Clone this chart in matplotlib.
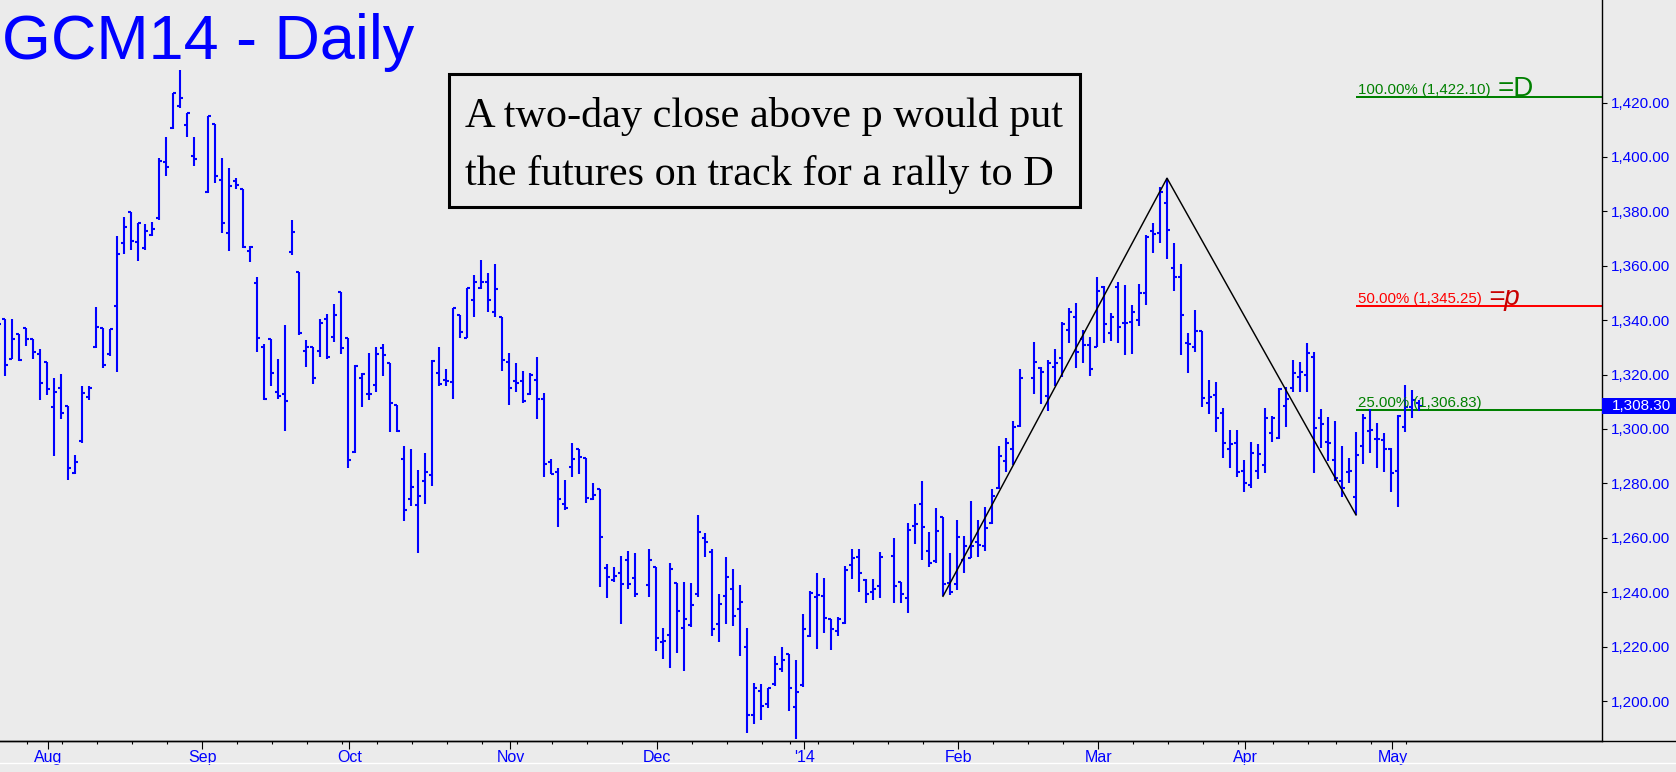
import numpy as np
import pandas as pd
import matplotlib
matplotlib.use("Agg")
import matplotlib.pyplot as plt
from matplotlib.patches import Rectangle
from matplotlib.lines import Line2D
import matplotlib.transforms as mtransforms

plt.rcParams['font.family'] = ['Liberation Sans', 'DejaVu Sans']

# ---------------- data ----------------
title = "GCM14 - Daily"
note_lines = ["A two-day close above p would put",
              "the futures on track for a rally to D"]
start_date, end_date = "2013-07-23", "2014-05-07"
closed_days = ["2013-12-25", "2014-01-01", "2014-04-18"]

N = None
opens = [
    1335.0, 1340.3, 1325.9, 1334.8, 1337.3, 1332.9, 1327.4,
    1324.7, 1308.2, 1315.2, 1308.5, 1283.9, 1295.7, 1311.8, 1330.2, 1337.0, 1327.5, 1345.2, 1368.2, 1379.9, 1368.8, 1366.6, 1371.3, 1377.4, 1398.2, 1410.5, 1418.7, 1411.7, 1400.3,
    N, 1387.2, 1412.3, 1391.5, 1372.1, 1391.3, 1388.1, 1365.5, 1353.7, 1330.2, 1332.9, 1313.7, 1312.8, 1365.1, 1357.8, 1328.7, 1330.2, 1328.7, 1340.4, 1333.9, 1350.4,
    1333.3, 1291.6, 1318.8, 1312.8, 1316.1, 1329.6, 1324.3, 1308.8, 1289.0, 1274.4, 1272.0, 1280.9, 1283.0, 1320.6, 1317.9, 1317.3, 1341.9, 1333.6, 1347.4, 1352.0, 1354.1, 1343.1, 1341.0,
    1324.7, 1317.7, 1317.7, 1312.8, 1317.9, 1311.0, 1287.9, 1284.3, 1272.4, 1286.1, 1292.5, 1289.4, 1274.1, 1278.1, 1249.0, 1244.4, 1246.9, 1252.0, 1245.3, N, 1242.6,
    1249.3, 1221.8, 1224.2, 1243.2, 1226.9, 1227.9, 1239.5, 1260.1, 1254.8, 1228.2, 1238.7, 1241.1, 1233.8, 1219.9, 1194.8, 1203.7, 1198.8, 1206.4, 1211.7, 1217.1, 1197.9,
    1205.8, 1223.8, 1238.3, 1238.7, 1230.1, 1225.8, 1228.7, 1249.9, 1252.8, 1244.4, 1240.1, 1242.3, N, 1253.4, 1243.6, 1237.9, 1264.3, 1272.6, 1255.2, 1251.5, 1267.5, 1243.3,
    1243.0, 1251.8, 1252.5, 1258.3, 1257.1, 1265.3, 1278.2, 1288.4, 1292.5, 1301.1, N, 1318.9, 1322.3, 1312.1, 1322.9, 1326.2, 1336.4, 1341.3, 1333.0, 1330.9,
    1330.3, 1352.1, 1335.2, 1352.3, 1338.8, 1339.5, 1340.1, 1349.9, 1372.8, 1371.9, 1383.2, 1359.3, 1356.0, 1331.5, 1330.3, 1336.0, 1309.4, 1312.5, 1306.0, 1292.5, 1295.0,
    1284.7, 1279.4, 1284.7, 1286.8, 1298.4, 1296.6, 1308.5, 1315.2, 1319.2, 1320.0, 1326.6, 1304.0, 1295.3, 1288.6, 1281.0, 1284.1, 1275.0, 1293.9, 1299.3, 1296.2, 1296.0,
    1292.5, 1284.7, 1300.9, 1308.2, 1309.5,
]
highs = [
    1345.0, 1340.3, 1340.3, 1334.8, 1337.3, 1332.9, 1329.3,
    1324.7, 1318.6, 1320.2, 1308.5, 1290.4, 1315.8, 1315.8, 1344.7, 1337.0, 1336.6, 1370.9, 1377.8, 1379.9, 1375.8, 1375.3, 1376.2, 1399.5, 1407.2, 1423.4, 1431.9, 1416.0, 1407.2,
    N, 1415.2, 1412.3, 1399.8, 1395.8, 1392.1, 1388.1, 1367.2, 1355.9, 1331.1, 1332.9, 1325.9, 1338.2, 1377.0, 1357.8, 1332.7, 1330.2, 1340.3, 1342.1, 1345.9, 1350.4,
    1333.3, 1323.5, 1320.4, 1327.8, 1330.2, 1331.4, 1324.3, 1309.0, 1293.7, 1292.6, 1284.9, 1291.2, 1325.3, 1330.2, 1321.9, 1344.3, 1341.9, 1352.0, 1356.6, 1362.3, 1357.2, 1360.6, 1341.0,
    1327.8, 1324.4, 1321.3, 1320.6, 1326.3, 1313.4, 1288.8, 1285.5, 1281.2, 1295.0, 1292.8, 1289.4, 1280.3, 1278.1, 1250.2, 1249.1, 1253.2, 1255.1, 1254.5, N, 1255.7,
    1249.3, 1227.0, 1250.9, 1243.2, 1243.6, 1243.4, 1268.3, 1261.6, 1255.7, 1239.2, 1252.8, 1248.7, 1242.8, 1227.0, 1206.8, 1206.4, 1204.8, 1216.5, 1219.9, 1217.1, 1215.0,
    1231.9, 1240.5, 1247.2, 1245.4, 1230.3, 1230.9, 1249.7, 1255.8, 1255.8, 1244.7, 1244.7, 1254.8, N, 1260.1, 1243.8, 1265.6, 1272.6, 1280.8, 1262.0, 1270.8, 1267.5, 1254.3,
    1266.5, 1260.7, 1273.5, 1266.5, 1271.4, 1277.8, 1293.7, 1296.6, 1302.9, 1322.1, N, 1332.1, 1322.7, 1325.4, 1329.3, 1339.5, 1344.4, 1346.2, 1336.4, 1333.7,
    1355.8, 1352.6, 1342.5, 1354.2, 1352.9, 1345.6, 1353.2, 1371.3, 1375.9, 1388.9, 1392.2, 1368.3, 1360.7, 1335.4, 1343.7, 1336.0, 1318.0, 1317.4, 1307.6, 1299.6, 1299.6,
    1288.6, 1295.1, 1294.5, 1307.6, 1304.8, 1315.0, 1315.6, 1325.4, 1324.5, 1331.7, 1328.4, 1307.2, 1304.5, 1302.9, 1293.8, 1289.2, 1299.0, 1305.5, 1307.2, 1302.1, 1298.7,
    1293.1, 1305.2, 1316.0, 1314.3, 1310.5,
]
lows = [
    1330.0, 1319.4, 1325.6, 1325.0, 1330.5, 1325.6, 1310.6,
    1312.5, 1290.0, 1303.5, 1281.2, 1283.3, 1294.9, 1310.6, 1329.6, 1322.3, 1326.8, 1321.0, 1364.3, 1365.8, 1361.8, 1365.8, 1370.9, 1377.0, 1393.0, 1410.3, 1417.9, 1407.2, 1396.7,
    N, 1386.8, 1390.5, 1371.9, 1365.5, 1388.4, 1366.4, 1361.5, 1328.4, 1310.8, 1315.9, 1311.2, 1299.3, 1364.0, 1334.7, 1322.9, 1316.7, 1326.3, 1325.9, 1332.0, 1327.7,
    1285.5, 1291.2, 1308.1, 1310.8, 1313.7, 1319.5, 1299.0, 1299.0, 1266.2, 1271.8, 1254.5, 1272.4, 1279.0, 1315.7, 1315.7, 1311.2, 1333.3, 1333.3, 1341.2, 1351.3, 1343.1, 1341.2, 1321.4,
    1309.0, 1313.7, 1309.7, 1312.4, 1303.5, 1282.4, 1283.4, 1264.0, 1270.4, 1282.4, 1283.6, 1272.9, 1273.8, 1242.0, 1237.7, 1243.8, 1228.2, 1241.0, 1238.1, N, 1238.1,
    1218.4, 1215.6, 1212.3, 1217.5, 1211.1, 1227.3, 1238.3, 1253.0, 1224.0, 1221.8, 1228.2, 1227.6, 1216.6, 1188.1, 1191.7, 1193.2, 1197.6, 1205.6, 1210.5, 1196.4, 1186.2,
    1205.2, 1223.4, 1219.1, 1225.1, 1218.9, 1224.0, 1228.3, 1244.7, 1240.1, 1236.2, 1237.1, 1237.7, N, 1236.2, 1236.2, 1232.2, 1257.7, 1252.0, 1249.1, 1250.8, 1238.5, 1239.0,
    1240.8, 1246.9, 1252.5, 1253.1, 1255.3, 1265.1, 1277.8, 1284.3, 1286.8, 1300.9, N, 1312.7, 1309.1, 1306.7, 1315.8, 1319.0, 1331.5, 1322.3, 1324.1, 1319.5,
    1330.0, 1331.5, 1332.5, 1331.5, 1327.2, 1327.5, 1338.0, 1345.6, 1364.6, 1368.3, 1362.5, 1350.9, 1327.2, 1320.5, 1328.4, 1308.0, 1305.4, 1298.8, 1289.2, 1285.5, 1282.5,
    1276.7, 1278.2, 1281.5, 1283.7, 1295.1, 1296.2, 1300.6, 1313.5, 1313.5, 1313.5, 1283.7, 1292.9, 1288.4, 1281.0, 1275.1, 1280.3, 1268.4, 1287.1, 1291.3, 1285.5, 1284.3,
    1276.7, 1271.4, 1299.0, 1303.9, 1306.5,
]
closes = [
    1338.6, 1323.7, 1333.2, 1325.3, 1333.2, 1328.4, 1316.8,
    1314.7, 1313.7, 1305.7, 1285.5, 1288.0, 1313.1, 1315.2, 1337.6, 1323.7, 1336.6, 1364.5, 1374.3, 1369.1, 1375.8, 1372.8, 1373.5, 1398.6, 1396.2, 1423.4, 1421.8, 1416.0, 1399.1,
    N, 1415.2, 1393.0, 1375.8, 1389.3, 1389.7, 1366.8, 1367.0, 1333.5, 1311.2, 1320.6, 1312.2, 1310.3, 1372.5, 1335.4, 1330.0, 1318.8, 1339.0, 1326.5, 1341.9, 1329.6,
    1288.5, 1323.1, 1320.2, 1312.7, 1327.5, 1327.1, 1309.6, 1299.2, 1270.4, 1278.7, 1275.4, 1284.3, 1325.1, 1316.5, 1317.7, 1344.3, 1335.7, 1352.0, 1354.1, 1354.1, 1347.6, 1351.4, 1325.3,
    1315.1, 1317.0, 1310.2, 1320.0, 1311.0, 1287.1, 1283.6, 1274.1, 1271.0, 1288.9, 1289.8, 1274.7, 1275.9, 1260.4, 1245.6, 1245.9, 1243.0, 1243.0, 1239.5, N, 1251.8,
    1223.3, 1222.0, 1248.5, 1233.1, 1230.1, 1235.2, 1262.2, 1258.5, 1226.3, 1235.8, 1245.6, 1231.3, 1236.5, 1194.8, 1204.8, 1198.2, 1204.6, 1213.6, 1215.0, 1204.8, 1203.4,
    1226.4, 1239.8, 1238.9, 1230.6, 1226.4, 1230.3, 1248.1, 1252.4, 1246.9, 1239.3, 1241.1, 1252.8, N, 1242.3, 1239.2, 1262.8, 1264.9, 1264.0, 1250.8, 1262.6, 1243.0, 1240.2,
    1260.4, 1257.0, 1257.1, 1257.4, 1263.5, 1275.4, 1290.1, 1295.0, 1300.6, 1318.6, N, 1324.8, 1320.8, 1324.1, 1324.1, 1338.5, 1343.1, 1328.2, 1331.0, 1322.1,
    1350.9, 1338.5, 1341.3, 1337.6, 1339.1, 1342.9, 1349.9, 1370.7, 1371.7, 1387.0, 1373.2, 1356.0, 1341.9, 1331.1, 1336.1, 1311.3, 1311.6, 1303.9, 1295.0, 1294.4, 1284.3,
    1280.3, 1291.1, 1290.8, 1303.9, 1303.9, 1314.6, 1310.9, 1320.7, 1321.1, 1328.1, 1300.5, 1302.0, 1295.0, 1281.9, 1278.2, 1284.7, 1290.4, 1303.9, 1299.6, 1296.2, 1292.5,
    1283.9, 1304.8, 1308.2, 1310.5, 1308.3,
]

month_labels = ["Aug", "Sep", "Oct", "Nov", "Dec", "'14", "Feb", "Mar", "Apr", "May"]
y_ticks = [1200, 1220, 1240, 1260, 1280, 1300, 1320, 1340, 1360, 1380, 1400, 1420]
fib_levels = [1422.10, 1345.25, 1306.83]
fib_pcts = ["100.00%", "50.00%", "25.00%"]
fib_tags = ["=D", "=p", ""]
pivot_dates = ["2014-01-30", "2014-03-17", "2014-04-24"]
last_price = 1308.30

# ---------------- styling ----------------
W, H = 1676, 772
BG = "#ebebeb"
BLUE = "#0000ff"
GREEN = "#008000"
RED = "#ff0000"
DARKRED = "#c80000"

def fx(px):
    return px / W

def fy(py):
    return 1 - py / H

fig = plt.figure(figsize=(W / 100, H / 100), dpi=100, facecolor=BG)
ax = fig.add_axes([0, (H - 741) / H, 1602 / W, 741 / H])
ax.set_facecolor(BG)

dates = pd.bdate_range(start_date, end_date)
dates = dates[~dates.isin(pd.to_datetime(closed_days))]
x = np.arange(len(dates), dtype=float)

o = np.array(opens, dtype=float)
h = np.array(highs, dtype=float)
l = np.array(lows, dtype=float)
c = np.array(closes, dtype=float)
n = min(len(x), len(o))
x = x[:n]
o, h, l, c = o[:n], h[:n], l[:n], c[:n]
m = ~np.isnan(h)

lw = 1.5
tick = 0.4
ax.vlines(x[m], l[m], h[m], colors=BLUE, lw=lw, zorder=3)
ax.hlines(o[m], x[m] - tick, x[m], colors=BLUE, lw=lw, zorder=3)
ax.hlines(c[m], x[m], x[m] + tick, colors=BLUE, lw=lw, zorder=3)

ax.set_xlim(0.286, 229.14)
ax.set_ylim(1185.3, 1457.7)

# pivots / trend lines
piv_idx = [int(np.where(dates == pd.Timestamp(d))[0][0]) for d in pivot_dates]
piv_val = [l[piv_idx[0]], h[piv_idx[1]], l[piv_idx[2]]]
ax.plot([x[i] for i in piv_idx], piv_val, color="black", lw=1.05, zorder=4)

# fib levels
xC = x[piv_idx[2]]
fib_colors = [GREEN, RED, GREEN]
tag_colors = [GREEN, DARKRED, GREEN]
for lev, pct, tag, col, tcol in zip(fib_levels, fib_pcts, fib_tags, fib_colors, tag_colors):
    ax.hlines(lev, xC, 229.14, colors=col, lw=1.45, zorder=2)
    lbl = ax.annotate(f"{pct} ({lev:,.2f})", xy=(xC + 0.35, lev), xytext=(0, 2.3),
                      textcoords="offset points", va="baseline", ha="left",
                      fontsize=10.8, color=col, zorder=5)
    if tag:
        ax.annotate(tag, xy=(1, 0), xycoords=lbl, xytext=(4.5, 0.5),
                    textcoords="offset points", va="baseline", ha="left",
                    fontsize=20, color=tcol, zorder=5,
                    fontstyle="italic" if tag == "=p" else "normal")

# axes styling
for s in ["left", "top"]:
    ax.spines[s].set_visible(False)
ax.spines["right"].set_color("black")
ax.spines["right"].set_linewidth(1.0)
ax.spines["bottom"].set_color("black")
ax.spines["bottom"].set_linewidth(1.0)

ax.yaxis.tick_right()
ax.set_yticks(y_ticks)
ax.set_yticklabels([f"{v:,.2f}" for v in y_ticks])
ax.tick_params(axis="y", which="major", direction="out", length=3.6, width=0.8,
               pad=3, labelsize=11, labelcolor=BLUE, color="black")

month_pos = [x[i] + 0.2 for i in range(1, n) if dates[i].month != dates[i - 1].month]
ax.set_xticks(month_pos)
ax.set_xticklabels(month_labels[:len(month_pos)])
monday_pos = [x[i] + 0.2 for i in range(n) if dates[i].weekday() == 0]
ax.set_xticks(monday_pos, minor=True)
ax.tick_params(axis="x", which="major", direction="out", length=5.5, width=0.8,
               pad=1, labelsize=11.5, labelcolor=BLUE, color="black")
ax.tick_params(axis="x", which="minor", direction="out", length=2.4, width=0.8,
               color="black")

# extend bottom line across the whole figure, and the faint scrollbar line
fig.add_artist(Line2D([0, 1], [fy(741), fy(741)], transform=fig.transFigure,
                      color="black", lw=1.0))
fig.add_artist(Line2D([0, 1], [fy(763), fy(763)], transform=fig.transFigure,
                      color="white", lw=1.0))

# title
fig.text(fx(2), fy(59), title, fontsize=45.3, color=BLUE, va="baseline", ha="left")

# note box
fig.add_artist(Rectangle((fx(449), fy(207)), (1080 - 449) / W, (207 - 74) / H,
                         transform=fig.transFigure, facecolor=BG,
                         edgecolor="black", lw=2.2, zorder=6))
fig.text(fx(465), fy(127), note_lines[0], fontsize=30.4, family="Liberation Serif",
         color="black", va="baseline", ha="left", zorder=7)
fig.text(fx(465), fy(184.5), note_lines[1], fontsize=30.4, family="Liberation Serif",
         color="black", va="baseline", ha="left", zorder=7)

# last price tag
trans = mtransforms.blended_transform_factory(fig.transFigure, ax.transData)
tag_h = 16 / 2.72
fig.add_artist(Rectangle((fx(1602), last_price - tag_h / 2), fx(1676) - fx(1602), tag_h,
                         transform=trans, facecolor=BLUE, edgecolor="none", zorder=6))
fig.text(fx(1612), last_price, f"{last_price:,.2f}", transform=trans, fontsize=11,
         color="white", va="center", ha="left", zorder=7)

fig.savefig("out.png", dpi=100, facecolor=BG)
